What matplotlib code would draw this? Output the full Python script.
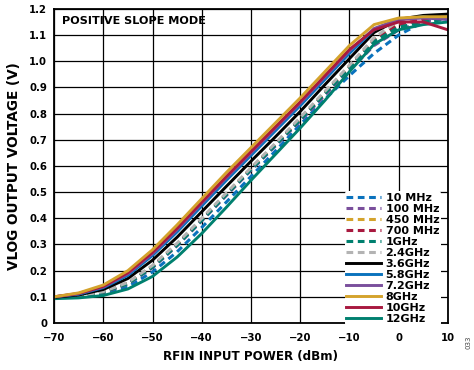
import matplotlib
matplotlib.use("Agg")
import matplotlib.pyplot as plt

plt.rcParams['font.family'] = ['DejaVu Sans']
plt.rcParams['font.weight'] = 'bold'

pin = [-70, -65, -60, -55, -50, -45, -40, -35, -30, -25, -20, -15, -10, -5, 0, 5, 10]

labels = ['10 MHz', '100 MHz', '450 MHz', '700 MHz', '1GHz', '2.4GHz',
          '3.6GHz', '5.8GHz', '7.2GHz', '8GHz', '10GHz', '12GHz']

v_10m  = [0.097, 0.101, 0.110, 0.138, 0.195, 0.272, 0.365, 0.462, 0.560, 0.658, 0.758, 0.855, 0.945, 1.030, 1.100, 1.150, 1.180]
v_100m = [0.097, 0.103, 0.117, 0.149, 0.211, 0.295, 0.390, 0.487, 0.583, 0.677, 0.772, 0.870, 0.965, 1.060, 1.120, 1.150, 1.165]
v_450m = [0.097, 0.104, 0.119, 0.153, 0.217, 0.302, 0.397, 0.494, 0.590, 0.685, 0.780, 0.880, 0.980, 1.082, 1.145, 1.165, 1.175]
v_700m = [0.097, 0.103, 0.118, 0.152, 0.215, 0.300, 0.395, 0.492, 0.588, 0.683, 0.778, 0.878, 0.978, 1.080, 1.140, 1.160, 1.170]
v_1g   = [0.097, 0.103, 0.118, 0.150, 0.213, 0.297, 0.392, 0.490, 0.586, 0.680, 0.776, 0.876, 0.975, 1.075, 1.130, 1.150, 1.160]
v_2g4  = [0.097, 0.104, 0.120, 0.155, 0.220, 0.305, 0.400, 0.497, 0.593, 0.688, 0.785, 0.885, 0.985, 1.090, 1.155, 1.170, 1.175]
v_3g6  = [0.098, 0.107, 0.128, 0.170, 0.240, 0.328, 0.425, 0.522, 0.618, 0.712, 0.808, 0.910, 1.010, 1.110, 1.160, 1.175, 1.180]
v_5g8  = [0.100, 0.110, 0.135, 0.182, 0.258, 0.348, 0.447, 0.545, 0.640, 0.735, 0.830, 0.930, 1.030, 1.120, 1.160, 1.170, 1.160]
v_7g2  = [0.100, 0.112, 0.138, 0.188, 0.265, 0.357, 0.457, 0.555, 0.650, 0.745, 0.840, 0.940, 1.040, 1.125, 1.160, 1.165, 1.160]
v_8g   = [0.100, 0.115, 0.145, 0.200, 0.280, 0.375, 0.475, 0.575, 0.670, 0.765, 0.860, 0.960, 1.060, 1.140, 1.165, 1.170, 1.170]
v_10g  = [0.100, 0.113, 0.140, 0.192, 0.270, 0.362, 0.462, 0.560, 0.655, 0.750, 0.845, 0.945, 1.045, 1.120, 1.150, 1.150, 1.120]
v_12g  = [0.093, 0.096, 0.105, 0.130, 0.178, 0.252, 0.342, 0.442, 0.545, 0.645, 0.745, 0.850, 0.960, 1.065, 1.120, 1.140, 1.150]

series = [v_10m, v_100m, v_450m, v_700m, v_1g, v_2g4, v_3g6, v_5g8, v_7g2, v_8g, v_10g, v_12g]

blue = '#0a72bd'
purple = '#7a4f9c'
gold = '#d4a32c'
red = '#a8193f'
teal = '#00806f'
gray = '#b3b3b3'
colors = [blue, purple, gold, red, teal, gray, 'black', blue, purple, gold, red, teal]
dashed = [True] * 6 + [False] * 6

fig = plt.figure(figsize=(4.74, 3.70), dpi=100)
ax = fig.add_axes([0.114, 0.127, 0.831, 0.849])

# solid ones drawn over dashed ones, legend keeps original order
handles = {}
order = list(range(6)) + [11, 6, 7, 8, 10, 9]
for i in order:
    if dashed[i]:
        h, = ax.plot(pin, series[i], color=colors[i], lw=2.2, ls=(0, (2.2, 1.5)),
                     label=labels[i])
    else:
        h, = ax.plot(pin, series[i], color=colors[i], lw=2.1, label=labels[i])
    handles[i] = h

ax.set_xlim(-70, 10)
ax.set_ylim(0, 1.2)
ax.set_xticks(range(-70, 11, 10))
ax.set_yticks([i / 10 for i in range(13)])
ax.set_yticklabels(['0'] + ['%.1f' % (i / 10) for i in range(1, 13)])
ax.grid(True, color='black', lw=0.9)
ax.set_axisbelow(True)
for s in ax.spines.values():
    s.set_linewidth(1.3)
ax.tick_params(axis='x', labelsize=7.3, length=0, pad=7)
ax.tick_params(axis='y', labelsize=7.3, length=0, pad=5)
for t in ax.get_xticklabels() + ax.get_yticklabels():
    t.set_fontweight('bold')

ax.set_xlabel('RFIN INPUT POWER (dBm)', fontsize=8.6, fontweight='bold', labelpad=5)
ax.set_ylabel('VLOG OUTPUT VOLTAGE (V)', fontsize=9.8, fontweight='bold', labelpad=6)

ax.text(0.02, 0.962, 'POSITIVE SLOPE MODE', transform=ax.transAxes, fontsize=8.1,
        fontweight='bold', va='center', ha='left')

leg = ax.legend([handles[i] for i in range(12)], labels, loc='lower right',
                bbox_to_anchor=(0.985, -0.012),
                fontsize=8.0, frameon=True, handlelength=3.1, handletextpad=0.45,
                labelspacing=0.09, borderpad=0.15, borderaxespad=0.1)
leg.get_frame().set_edgecolor('none')
leg.get_frame().set_facecolor('white')
leg.get_frame().set_alpha(1)
for t in leg.get_texts():
    t.set_fontweight('bold')

fig.text(0.989, 0.076, '033', rotation=90, fontsize=5, ha='center', va='center',
         fontweight='normal', color='#444444')

fig.savefig('out.png', dpi=100)
